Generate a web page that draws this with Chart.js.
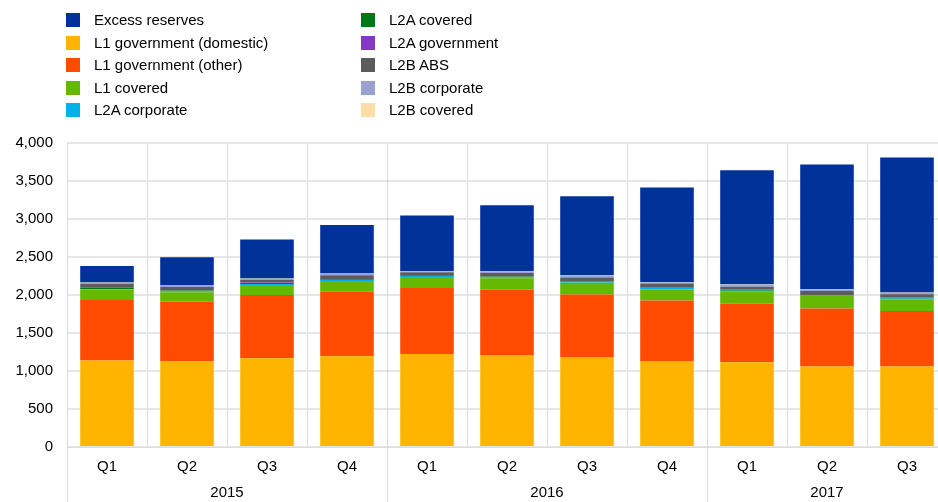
<!DOCTYPE html>
<html>
<head>
<meta charset="utf-8">
<script src="https://cdn.jsdelivr.net/npm/chart.js@4"></script>
<style>
  html, body { margin:0; padding:0; background:#fff; overflow:hidden; }
  #wrap { position:relative; width:938px; height:502px; overflow:hidden; }
  #chart { position:absolute; left:0; top:0; }
  .legend { position:absolute; top:0; left:0; font-family:"Liberation Sans", Arial, sans-serif; font-size:15px; color:#000; }
  .item { position:absolute; height:22px; line-height:22px; white-space:nowrap; }
  .item .box { position:absolute; top:4px; width:14px; height:14px; }
  .item .lbl { position:absolute; top:0; }
</style>
</head>
<body>
<div id="wrap">
  <canvas id="chart" width="950" height="502"></canvas>
  <div class="legend" id="legend"></div>
</div>
<script>
// quarters and year groups
const quarters = ['Q1','Q2','Q3','Q4','Q1','Q2','Q3','Q4','Q1','Q2','Q3'];
const years = ['2015','2016','2017'];
const yearSizes = [4, 4, 3];
const yTicks = [0, 500, 1000, 1500, 2000, 2500, 3000, 3500, 4000];

// series values (EUR billions), stacked bottom -> top
const l1GovDomestic = [1137, 1128, 1167, 1193, 1224, 1211, 1176, 1124, 1114, 1058, 1058];
const l1GovOther    = [ 797,  785,  833,  852,  868,  860,  829,  802,  773,  763,  731];
const l1Covered     = [ 137,  123,  132,  139,  145,  149,  155,  151,  162,  168,  150];
const l2aCorporate  = [   8,   12,   12,   14,   14,   12,   12,   14,    6,    6,   14];
const l2aCovered    = [  15,   10,   15,    8,    8,   10,    5,    7,   14,    4,   10];
const l2aGovernment = [   3,    3,    4,    4,    4,    4,    3,    3,    3,    2,    3];
const l2bAbs        = [  48,   43,   34,   49,   35,   43,   49,   49,   33,   50,   43];
const l2bCorporate  = [  15,   17,   16,   20,   15,   24,   27,   18,   33,   21,   20];
const l2bCovered    = [   3,    3,    3,    3,    3,    3,    3,    3,    3,    3,    3];
const excessReserves= [ 219,  372,  513,  639,  729,  864, 1040, 1242, 1500, 1641, 1776];

const series = [
  { key:'dom',   label:'L1 government (domestic)', data:l1GovDomestic,  color:'#FFB400' },
  { key:'oth',   label:'L1 government (other)',    data:l1GovOther,     color:'#FF4B00' },
  { key:'l1cov', label:'L1 covered',               data:l1Covered,      color:'#65B800' },
  { key:'acorp', label:'L2A corporate',            data:l2aCorporate,   color:'#00B1EA' },
  { key:'acov',  label:'L2A covered',              data:l2aCovered,     color:'#007816' },
  { key:'agov',  label:'L2A government',           data:l2aGovernment,  color:'#8139C6' },
  { key:'abs',   label:'L2B ABS',                  data:l2bAbs,         color:'#5C5C5C' },
  { key:'bcorp', label:'L2B corporate',            data:l2bCorporate,   color:'#98A1D0' },
  { key:'bcov',  label:'L2B covered',              data:l2bCovered,     color:'#FDDDA7' },
  { key:'exc',   label:'Excess reserves',          data:excessReserves, color:'#003299' }
];
// legend order, column by column
const legendCols = [
  ['exc','dom','oth','l1cov','acorp'],
  ['acov','agov','abs','bcorp','bcov']
];

const FONT = '"Liberation Sans", Arial, sans-serif';

// html legend
(function buildLegend(){
  const lg = document.getElementById('legend');
  const colX = [66, 361];
  legendCols.forEach((col, ci) => {
    col.forEach((k, ri) => {
      const s = series.find(x => x.key === k);
      const d = document.createElement('div');
      d.className = 'item';
      d.style.left = colX[ci] + 'px';
      d.style.top = (9 + ri * 22.5) + 'px';
      d.innerHTML = `<span class="box" style="left:0;background:${s.color}"></span><span class="lbl" style="left:28px">${s.label}</span>`;
      lg.appendChild(d);
    });
  });
})();

// year labels + separators under the category axis
const yearAxis = {
  id:'yearAxis',
  afterDraw(chart){
    const {ctx, chartArea, scales:{x}} = chart;
    const H = chart.height;
    const half = (x.getPixelForValue(1) - x.getPixelForValue(0)) / 2;
    ctx.save();
    ctx.strokeStyle = '#d9d9d9';
    ctx.lineWidth = 1;
    ctx.fillStyle = '#000';
    ctx.font = '15px ' + FONT;
    ctx.textAlign = 'center';
    ctx.textBaseline = 'middle';
    let start = 0;
    years.forEach((y, i) => {
      const n = yearSizes[i];
      const left = x.getPixelForValue(start) - half;
      const right = x.getPixelForValue(start + n - 1) + half;
      ctx.beginPath();
      ctx.moveTo(Math.round(left) + 0.5, chartArea.top);
      ctx.lineTo(Math.round(left) + 0.5, H);
      ctx.stroke();
      ctx.fillText(y, (left + right) / 2, 493);
      start += n;
    });
    ctx.restore();
  }
};

new Chart(document.getElementById('chart'), {
  type:'bar',
  data:{
    labels: quarters,
    datasets: series.map(s => ({
      label: s.label,
      data: s.data,
      backgroundColor: s.color,
      borderWidth: 0,
      barPercentage: 0.67,
      categoryPercentage: 1
    }))
  },
  options:{
    responsive:false,
    animation:false,
    layout:{ padding:{ top:143, right:3, left:0, bottom:0 } },
    plugins:{ legend:{ display:false }, tooltip:{ enabled:false } },
    scales:{
      x:{
        stacked:true,
        grid:{ color:'#dcdcdc', lineWidth:1, drawTicks:false, offset:true },
        border:{ color:'#dcdcdc', width:1 },
        ticks:{ color:'#000', font:{ family:FONT, size:15 }, padding:11, maxRotation:0 },
        afterFit(s){ s.height = 55; }
      },
      y:{
        stacked:true,
        min:0, max:4000,
        afterBuildTicks(s){ s.ticks = yTicks.map(v => ({ value:v })); },
        grid:{ color:'#e6e6e6', lineWidth:2, drawTicks:false },
        border:{ display:false },
        ticks:{ color:'#000', font:{ family:FONT, size:15 }, padding:14,
                callback:v => v.toLocaleString('en-US') },
        afterFit(s){ s.width = 67; }
      }
    }
  },
  plugins:[yearAxis]
});
</script>
</body>
</html>
